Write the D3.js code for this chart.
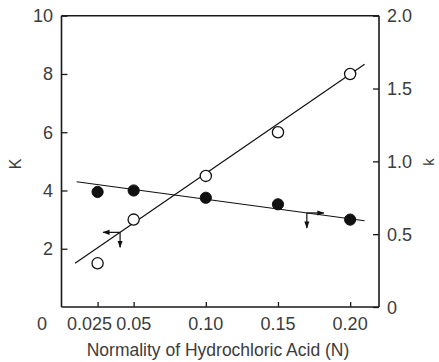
<!DOCTYPE html>
<html>
<head>
<meta charset="utf-8">
<script src="https://cdn.jsdelivr.net/npm/d3@7/dist/d3.min.js"></script>
<style>
  html, body { margin: 0; padding: 0; background: #fff; }
  svg { display: block; }
  text { font-family: "Liberation Sans", Arial, sans-serif; fill: #3c3c3c; }
</style>
</head>
<body>
<svg id="chart" width="439" height="362"></svg>
<script>
// HCl normality (N)
const normality = [0.025, 0.05, 0.10, 0.15, 0.20];
// K, read on the left axis (open circles)
const bigK = [1.5, 3.0, 4.5, 6.0, 8.0];
// k, read on the right axis (filled circles)
const smallK = [0.79, 0.80, 0.75, 0.705, 0.60];

// fitted straight lines: end points [x, value]
const bigKFit = [[0.0094, 1.50], [0.210, 8.33]];
const smallKFit = [[0.0105, 0.860], [0.210, 0.592]];

// axis ticks
const xTicks = [0.025, 0.05, 0.10, 0.15, 0.20];
const xTickLabels = ["0.025", "0.05", "0.10", "0.15", "0.20"];
const leftTicks = [2, 4, 6, 8, 10];
const leftTickLabels = ["2", "4", "6", "8", "10"];
const rightTicks = [0, 0.5, 1.0, 1.5, 2.0];
const rightTickLabels = ["0", "0.5", "1.0", "1.5", "2.0"];

const svg = d3.select("#chart");
const L = 61.5, R = 379, T = 15.7, B = 307;

const x = d3.scaleLinear().domain([0, 0.22]).range([L, R]);
const yL = d3.scaleLinear().domain([0, 10]).range([B, T]);
const yR = d3.scaleLinear().domain([0, 2]).range([B, T]);

// arrowhead
svg.append("defs").append("marker")
  .attr("id", "head").attr("viewBox", "0 0 10 10")
  .attr("refX", 9).attr("refY", 5)
  .attr("markerWidth", 6).attr("markerHeight", 6)
  .attr("orient", "auto-start-reverse")
  .append("path").attr("d", "M0,1.5 L10,5 L0,8.5 Z").attr("fill", "#111");

// axes with inward ticks
const axLeft = d3.axisRight(yL).tickValues(leftTicks).tickSize(6).tickFormat("");
const axRight = d3.axisLeft(yR).tickValues(rightTicks).tickSize(6).tickFormat("");
const axBottom = d3.axisTop(x).tickValues(xTicks).tickSize(5).tickFormat("");

function styleAxis(g) {
  g.select(".domain").attr("stroke", "#1a1a1a").attr("stroke-width", 1.6);
  g.selectAll(".tick line").attr("stroke", "#1a1a1a").attr("stroke-width", 1.3);
}
svg.append("g").attr("transform", `translate(${L},0)`).call(axLeft).call(styleAxis)
  .select(".domain").attr("d", `M0,${B}V${T}`);
svg.append("g").attr("transform", `translate(${R},0)`).call(axRight).call(styleAxis)
  .select(".domain").attr("d", `M0,${B}V${T}`);
svg.append("g").attr("transform", `translate(0,${B})`).call(axBottom).call(styleAxis)
  .select(".domain").attr("d", `M${L},0H${R}`);
svg.append("line").attr("x1", L).attr("x2", R).attr("y1", T).attr("y2", T)
  .attr("stroke", "#1a1a1a").attr("stroke-width", 1.6);

// tick labels
const lab = svg.append("g").style("font-size", "18px");
lab.selectAll(".xl").data(xTicks).join("text")
  .attr("x", (d, i) => x(d) + (i === 0 ? -8 : i === 1 ? 0 : 0))
  .attr("y", 330).attr("text-anchor", "middle")
  .text((d, i) => xTickLabels[i]);
lab.append("text").attr("x", 42).attr("y", 330).attr("text-anchor", "middle").text("0");
lab.selectAll(".ll").data(leftTicks).join("text")
  .attr("x", 53).attr("y", d => yL(d) + 6.5).attr("text-anchor", "end")
  .text((d, i) => leftTickLabels[i]);
lab.selectAll(".rl").data(rightTicks).join("text")
  .attr("x", 387).attr("y", d => yR(d) + 6.5).attr("text-anchor", "start")
  .text((d, i) => rightTickLabels[i]);

// axis titles
svg.append("text").attr("x", 218).attr("y", 356).attr("text-anchor", "middle")
  .style("font-size", "17.5px").text("Normality of Hydrochloric Acid (N)");
svg.append("text").attr("transform", "translate(21,164) rotate(-90)")
  .attr("text-anchor", "middle").style("font-size", "16px").text("K");
svg.append("text").attr("transform", "translate(434,162) rotate(-90)")
  .attr("text-anchor", "middle").style("font-size", "15px").text("k");

// fitted lines
const lineL = d3.line().x(d => x(d[0])).y(d => yL(d[1]));
const lineR = d3.line().x(d => x(d[0])).y(d => yR(d[1]));
svg.append("path").attr("d", lineL(bigKFit)).attr("fill", "none").attr("stroke", "#111").attr("stroke-width", 1.2);
svg.append("path").attr("d", lineR(smallKFit)).attr("fill", "none").attr("stroke", "#111").attr("stroke-width", 1.2);

// points
svg.selectAll(".open").data(normality).join("circle")
  .attr("cx", d => x(d)).attr("cy", (d, i) => yL(bigK[i])).attr("r", 5.6)
  .attr("fill", "#fff").attr("stroke", "#111").attr("stroke-width", 1.3);
svg.selectAll(".filled").data(normality).join("circle")
  .attr("cx", d => x(d)).attr("cy", (d, i) => yR(smallK[i])).attr("r", 5.6)
  .attr("fill", "#111").attr("stroke", "#111").attr("stroke-width", 1);

// axis-key arrows: each line points to the axis it is read on
function fitAt(fit, xv) {
  const [a, b] = fit;
  return a[1] + (b[1] - a[1]) * (xv - a[0]) / (b[0] - a[0]);
}
function keyArrow(px, py, dir) {
  const g = svg.append("g").attr("stroke", "#111").attr("stroke-width", 1.2);
  g.append("line").attr("x1", px).attr("y1", py).attr("x2", px + dir * 17).attr("y2", py)
    .attr("marker-end", "url(#head)");
  g.append("line").attr("x1", px).attr("y1", py).attr("x2", px).attr("y2", py + 15)
    .attr("marker-end", "url(#head)");
}
const xa = 0.0406, xb = 0.170;
keyArrow(x(xa), yL(fitAt(bigKFit, xa)), -1);
keyArrow(x(xb), yR(fitAt(smallKFit, xb)), 1);
</script>
</body>
</html>
